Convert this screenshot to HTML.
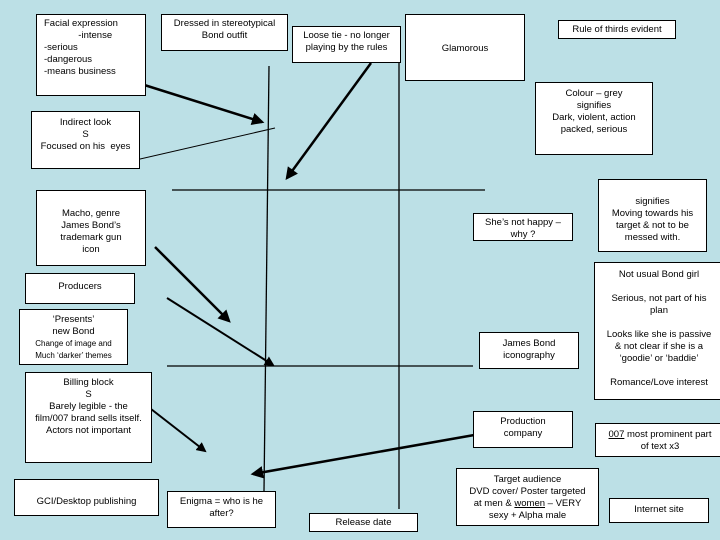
<!DOCTYPE html>
<html><head><meta charset="utf-8"><style>
body{margin:0;width:720px;height:540px;background:#bce0e6;position:relative;overflow:hidden;font-family:"Liberation Sans",sans-serif;font-size:9.5px;color:#000}
.b{position:absolute;background:#fff;border:1px solid #000;box-sizing:border-box;text-align:center;line-height:12px;padding-top:3px}
svg{position:absolute;left:0;top:0}
</style></head><body>
<svg width="720" height="540">
<defs><marker id="a" markerWidth="5" markerHeight="5" refX="4" refY="2.5" orient="auto"><path d="M0,0L5,2.5L0,5z"/></marker></defs>
<g stroke="#000" fill="none">
<line x1="269" y1="66" x2="264" y2="491" stroke-width="1.3"/>
<line x1="399" y1="60" x2="399" y2="509" stroke-width="1.3"/>
<line x1="172" y1="190" x2="485" y2="190" stroke-width="1.3"/>
<line x1="167" y1="366" x2="473" y2="366" stroke-width="1.3"/>
<line x1="138" y1="83" x2="262" y2="122" stroke-width="2.5" marker-end="url(#a)"/>
<line x1="127" y1="162" x2="275" y2="128" stroke-width="1"/>
<line x1="371" y1="63" x2="287" y2="178" stroke-width="2.5" marker-end="url(#a)"/>
<line x1="155" y1="247" x2="229" y2="321" stroke-width="2.5" marker-end="url(#a)"/>
<line x1="167" y1="298" x2="273" y2="365" stroke-width="2" marker-end="url(#a)"/>
<line x1="133" y1="395" x2="205" y2="451" stroke-width="2" marker-end="url(#a)"/>
<line x1="480" y1="434" x2="253" y2="474" stroke-width="2.5" marker-end="url(#a)"/>
</g>
</svg>
<div class="b" style="left:36px;top:14px;width:110px;height:82px;text-align:left;padding-left:7px">Facial expression<br>&nbsp;&nbsp;&nbsp;&nbsp;&nbsp;&nbsp;&nbsp;&nbsp;&nbsp;&nbsp;&nbsp;&nbsp;&nbsp;-intense<br>-serious<br>-dangerous<br>-means business</div>
<div class="b" style="left:161px;top:14px;width:127px;height:37px">Dressed in stereotypical<br>Bond outfit</div>
<div class="b" style="left:292px;top:26px;width:109px;height:37px">Loose tie - no longer<br>playing by the rules</div>
<div class="b" style="left:405px;top:14px;width:120px;height:67px;padding-top:28px">Glamorous</div>
<div class="b" style="left:558px;top:20px;width:118px;height:19px;padding-top:3px">Rule of thirds evident</div>
<div class="b" style="left:31px;top:111px;width:109px;height:58px;padding-top:5px">Indirect look<br>S<br>Focused on his&nbsp; eyes</div>
<div class="b" style="left:535px;top:82px;width:118px;height:73px;padding-top:5px">Colour – grey<br>signifies<br>Dark, violent, action<br>packed, serious</div>
<div class="b" style="left:36px;top:190px;width:110px;height:76px;padding-top:17px">Macho, genre<br>James Bond’s<br>trademark gun<br>icon</div>
<div class="b" style="left:473px;top:213px;width:100px;height:28px;padding-top:3px">She’s not happy –<br>why ?</div>
<div class="b" style="left:598px;top:179px;width:109px;height:73px;padding-top:16px">signifies<br>Moving towards his<br>target &amp; not to be<br>messed with.</div>
<div class="b" style="left:594px;top:262px;width:130px;height:138px;padding-top:6px">Not usual Bond girl<br><br>Serious, not part of his<br>plan<br><br>Looks like she is passive<br>&amp; not clear if she is a<br>‘goodie’ or ‘baddie’<br><br>Romance/Love interest</div>
<div class="b" style="left:25px;top:273px;width:110px;height:31px;padding-top:7px">Producers</div>
<div class="b" style="left:19px;top:309px;width:109px;height:56px;padding-top:4px">‘Presents’<br>new Bond<br><span style="font-size:8px;line-height:11px">Change of image and<br>Much ‘darker’ themes</span></div>
<div class="b" style="left:25px;top:372px;width:127px;height:91px;padding-top:4px">Billing block<br>S<br>Barely legible - the<br>film/007 brand sells itself.<br>Actors not important</div>
<div class="b" style="left:14px;top:479px;width:145px;height:37px;padding-top:16px">GCI/Desktop publishing</div>
<div class="b" style="left:167px;top:491px;width:109px;height:37px;padding-top:4px">Enigma = who is he<br>after?</div>
<div class="b" style="left:309px;top:513px;width:109px;height:19px;padding-top:3px">Release date</div>
<div class="b" style="left:479px;top:332px;width:100px;height:37px;padding-top:5px">James Bond<br>iconography</div>
<div class="b" style="left:473px;top:411px;width:100px;height:37px;padding-top:4px">Production<br>company</div>
<div class="b" style="left:595px;top:423px;width:130px;height:34px;padding-top:5px"><u>007</u> most prominent part<br>of text x3</div>
<div class="b" style="left:456px;top:468px;width:143px;height:58px;padding-top:5px">Target audience<br>DVD cover/ Poster targeted<br>at men &amp; <u>women</u> – VERY<br>sexy + Alpha male</div>
<div class="b" style="left:609px;top:498px;width:100px;height:25px;padding-top:5px">Internet site</div>
</body></html>
